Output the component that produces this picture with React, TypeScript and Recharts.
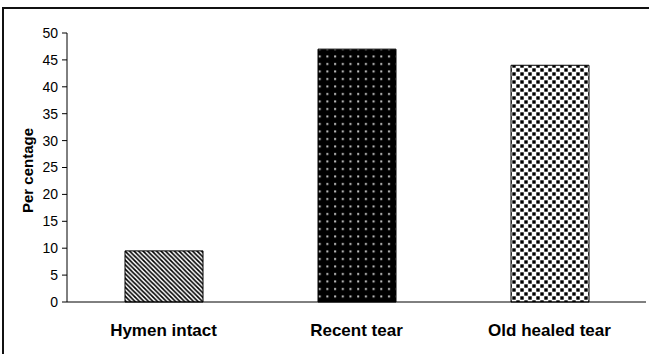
import React from "react";
import { BarChart, Bar, XAxis, YAxis, Cell } from "recharts";

const categories = ["Hymen intact", "Recent tear", "Old healed tear"];
const percentages = [9.5, 47, 44];
const yTicks = [0, 5, 10, 15, 20, 25, 30, 35, 40, 45, 50];
const edgeTicks = [0, 1, 2, 3];
const patternIds = ["pStripes", "pDarkDots", "pSquares"];

const data = categories.map((c, i) => ({ name: c, value: percentages[i] }));

const FONT = "'Liberation Sans', Arial, sans-serif";

const XTick = (props: any) => {
  const { x, y, payload } = props;
  return (
    <text x={x} y={y + 34} textAnchor="middle" fontFamily={FONT} fontSize={17} fontWeight="bold" fill="#000">
      {payload.value}
    </text>
  );
};

const YLabel = (props: any) => {
  const vb = props.viewBox || {};
  const cx = vb.x + 26;
  const cy = vb.y + vb.height / 2 + 3;
  return (
    <text x={cx} y={cy} transform={`rotate(-90, ${cx}, ${cy})`} textAnchor="middle" fontFamily={FONT} fontSize={15} fontWeight="bold" fill="#000">
      Per centage
    </text>
  );
};

export default function App() {
  return (
    <div style={{ position: "absolute", left: 0, top: 0, width: 649, height: 354, overflow: "hidden", background: "#fff" }}>
      <svg width={0} height={0} style={{ position: "absolute" }}>
        <defs>
          <pattern id="pStripes" patternUnits="userSpaceOnUse" width={4.5} height={4.5}>
            <rect width={4.5} height={4.5} fill="#fff" />
            <path d="M-1,-1 L5.5,5.5 M-1,3.5 L1,5.5 M3.5,-1 L5.5,1" stroke="#000" strokeWidth={1.6} />
          </pattern>
          <pattern id="pDarkDots" patternUnits="userSpaceOnUse" width={7.7} height={7.5}>
            <rect width={7.7} height={7.5} fill="#000" />
            <rect x={3} y={3} width={2} height={2} fill="#c8c8c8" />
          </pattern>
          <pattern id="pSquares" patternUnits="userSpaceOnUse" width={8} height={8}>
            <rect width={8} height={8} fill="#fff" />
            <rect x={0.3} y={0.3} width={3.4} height={3.4} fill="#000" />
            <rect x={4.3} y={4.3} width={3.4} height={3.4} fill="#000" />
          </pattern>
        </defs>
      </svg>
      <div style={{ position: "absolute", left: 2, top: 7, width: 700, height: 400, border: "2px solid #111", boxSizing: "border-box" }} />
      <div style={{ position: "absolute", left: 0, top: 0 }}>
        <BarChart width={649} height={354} data={data} margin={{ top: 33, right: 3, left: 7, bottom: 22 }}>
          <XAxis
            xAxisId="edge"
            type="number"
            domain={[0, 3]}
            ticks={edgeTicks}
            tick={false}
            axisLine={false}
            tickSize={5}
            tickLine={{ stroke: "#000" }}
            height={0}
            allowDataOverflow
          />
          <XAxis
            dataKey="name"
            tick={<XTick />}
            tickLine={false}
            tickSize={0}
            tickMargin={0}
            axisLine={{ stroke: "#000" }}
            height={30}
            interval={0}
          />
          <YAxis
            domain={[0, 50]}
            ticks={yTicks}
            width={60}
            tickSize={5}
            tickMargin={4}
            axisLine={{ stroke: "#000" }}
            tickLine={{ stroke: "#000" }}
            tick={{ fill: "#000", fontSize: 14, fontFamily: FONT }}
            interval={0}
            label={<YLabel />}
          />
          <Bar dataKey="value" barSize={78} stroke="#000" strokeWidth={1} isAnimationActive={false}>
            {data.map((d, i) => (
              <Cell key={d.name} fill={`url(#${patternIds[i]})`} />
            ))}
          </Bar>
        </BarChart>
      </div>
    </div>
  );
}
